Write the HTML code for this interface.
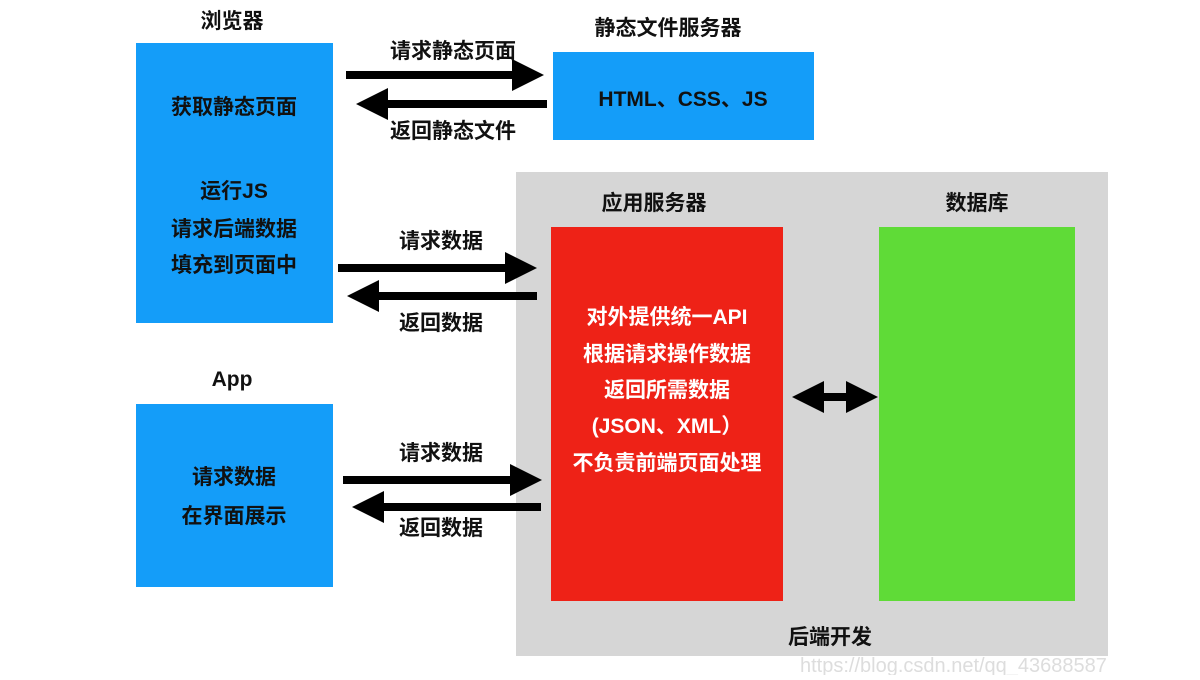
<!DOCTYPE html>
<html><head><meta charset="utf-8"><style>
body{margin:0;background:#fff;}
svg text{font-family:"Liberation Sans","Noto Sans CJK SC",sans-serif;font-weight:bold;font-size:21px;}
</style></head><body>
<svg width="1200" height="675" viewBox="0 0 1200 675" xmlns="http://www.w3.org/2000/svg">
<defs>
<marker id="ah" markerWidth="4" markerHeight="4" refX="2" refY="2" orient="auto" markerUnits="strokeWidth"><path d="M0,0 L4,2 L0,4 Z" fill="#000"/></marker>
</defs>
<rect x="516" y="172" width="592" height="484" fill="#d6d6d6"/>
<rect x="136" y="43" width="197" height="280" fill="#149df9"/>
<rect x="553" y="52" width="261" height="88" fill="#149df9"/>
<rect x="136" y="404" width="197" height="183" fill="#149df9"/>
<rect x="551" y="227" width="232" height="374" fill="#ee2217"/>
<rect x="879" y="227" width="196" height="374" fill="#5fdb37"/>
<g stroke="#000" stroke-width="8" fill="none">
<line x1="346" y1="75" x2="528" y2="75" marker-end="url(#ah)"/>
<line x1="547" y1="104" x2="372" y2="104" marker-end="url(#ah)"/>
<line x1="338" y1="268" x2="521" y2="268" marker-end="url(#ah)"/>
<line x1="537" y1="296" x2="363" y2="296" marker-end="url(#ah)"/>
<line x1="343" y1="480" x2="526" y2="480" marker-end="url(#ah)"/>
<line x1="541" y1="507" x2="368" y2="507" marker-end="url(#ah)"/>
<line x1="808" y1="397" x2="862" y2="397" marker-end="url(#ah)"/>
<line x1="862" y1="397" x2="808" y2="397" marker-end="url(#ah)"/>
</g>
<g fill="#111" text-anchor="middle">
<text x="232" y="28">浏览器</text>
<text x="668" y="35">静态文件服务器</text>
<text x="453" y="58">请求静态页面</text>
<text x="453" y="138">返回静态文件</text>
<text x="683" y="106">HTML、CSS、JS</text>
<text x="234" y="114">获取静态页面</text>
<text x="234" y="198">运行JS</text>
<text x="234" y="236">请求后端数据</text>
<text x="234" y="272">填充到页面中</text>
<text x="441" y="248">请求数据</text>
<text x="441" y="330">返回数据</text>
<text x="654" y="210">应用服务器</text>
<text x="977" y="210">数据库</text>
<text x="232" y="386">App</text>
<text x="234" y="484">请求数据</text>
<text x="234" y="523">在界面展示</text>
<text x="441" y="460">请求数据</text>
<text x="441" y="535">返回数据</text>
<text x="830" y="644">后端开发</text>
</g>
<g fill="#fff" text-anchor="middle">
<text x="667" y="324">对外提供统一API</text>
<text x="667" y="361">根据请求操作数据</text>
<text x="667" y="397">返回所需数据</text>
<text x="667" y="433">(JSON、XML）</text>
<text x="667" y="470">不负责前端页面处理</text>
</g>
<text x="800" y="672" fill="#ddd" style="font-weight:normal;font-size:20px">https://blog.csdn.net/qq_43688587</text>
</svg>
</body></html>
